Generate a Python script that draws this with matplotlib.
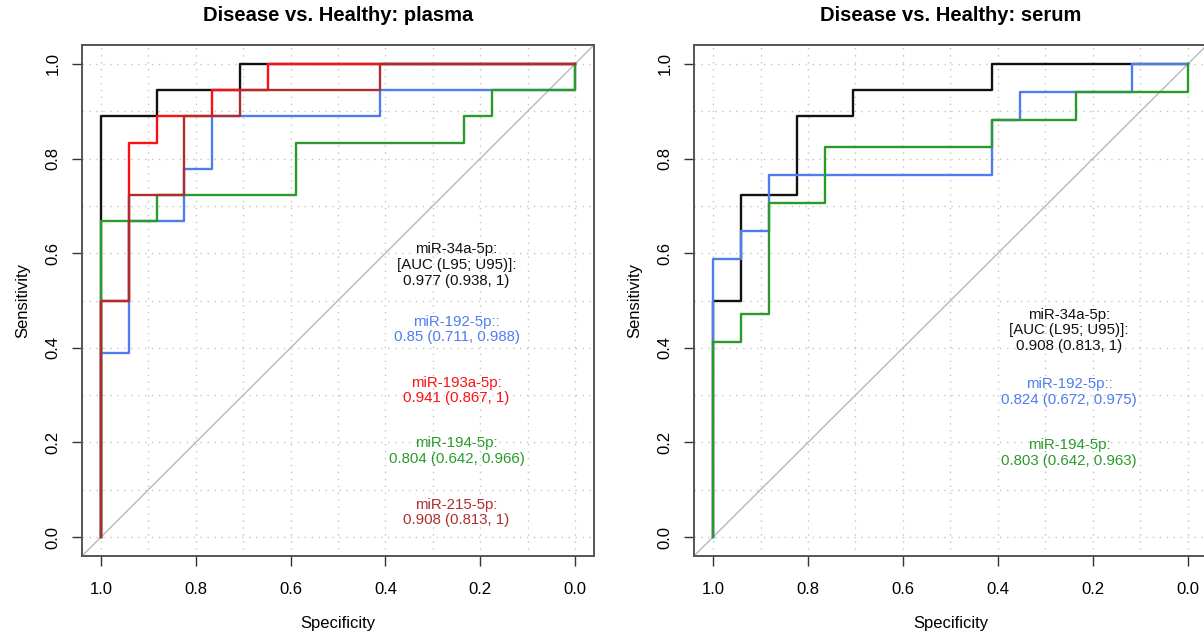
import matplotlib
matplotlib.use("Agg")
import matplotlib.pyplot as plt

plt.rcParams['font.family'] = ['Liberation Sans', 'DejaVu Sans']

# ---------------- data: plasma ----------------
pl_34a_spec = [1, 1, 0.882, 0.882, 0.706, 0.706, 0]
pl_34a_sens = [0, 0.889, 0.889, 0.944, 0.944, 1, 1]

pl_192_spec = [1, 1, 0.941, 0.941, 0.824, 0.824, 0.765, 0.765, 0.412, 0.412, 0, 0]
pl_192_sens = [0, 0.389, 0.389, 0.667, 0.667, 0.778, 0.778, 0.889, 0.889, 0.944, 0.944, 1]

pl_193a_spec = [1, 1, 0.941, 0.941, 0.882, 0.882, 0.765, 0.765, 0.647, 0.647, 0]
pl_193a_sens = [0, 0.5, 0.5, 0.833, 0.833, 0.889, 0.889, 0.944, 0.944, 1, 1]

pl_194_spec = [1, 1, 0.882, 0.882, 0.588, 0.588, 0.235, 0.235, 0.176, 0.176, 0, 0]
pl_194_sens = [0, 0.667, 0.667, 0.722, 0.722, 0.833, 0.833, 0.889, 0.889, 0.944, 0.944, 1]

pl_215_spec = [1, 1, 0.941, 0.941, 0.824, 0.824, 0.706, 0.706, 0.412, 0.412, 0]
pl_215_sens = [0, 0.5, 0.5, 0.722, 0.722, 0.889, 0.889, 0.944, 0.944, 1, 1]

# ---------------- data: serum ----------------
se_34a_spec = [1, 1, 0.941, 0.941, 0.824, 0.824, 0.706, 0.706, 0.412, 0.412, 0]
se_34a_sens = [0, 0.5, 0.5, 0.722, 0.722, 0.889, 0.889, 0.944, 0.944, 1, 1]

se_192_spec = [1, 1, 0.941, 0.941, 0.882, 0.882, 0.412, 0.412, 0.353, 0.353, 0.118, 0.118, 0]
se_192_sens = [0, 0.588, 0.588, 0.647, 0.647, 0.765, 0.765, 0.882, 0.882, 0.941, 0.941, 1, 1]

se_194_spec = [1, 1, 0.941, 0.941, 0.882, 0.882, 0.765, 0.765, 0.412, 0.412, 0.235, 0.235, 0, 0]
se_194_sens = [0, 0.412, 0.412, 0.471, 0.471, 0.706, 0.706, 0.824, 0.824, 0.882, 0.882, 0.941, 0.941, 1]

pl_labels = ["miR-34a-5p:\n[AUC (L95; U95)]:\n0.977 (0.938, 1)",
             "miR-192-5p::\n0.85 (0.711, 0.988)",
             "miR-193a-5p:\n0.941 (0.867, 1)",
             "miR-194-5p:\n0.804 (0.642, 0.966)",
             "miR-215-5p:\n0.908 (0.813, 1)"]
se_labels = ["miR-34a-5p:\n[AUC (L95; U95)]:\n0.908 (0.813, 1)",
             "miR-192-5p::\n0.824 (0.672, 0.975)",
             "miR-194-5p:\n0.803 (0.642, 0.963)"]

C_BLACK = '#111111'
C_BLUE = '#4F7CF0'
C_RED = '#FF1010'
C_GREEN = '#2A9A2A'
C_BROWN = '#AE2E2E'

fig = plt.figure(figsize=(12.04, 6.35), dpi=100)
W, H = 1204, 635
ax1 = fig.add_axes([82 / W, 1 - 556 / H, (594 - 82) / W, (556 - 45) / H])
ax2 = fig.add_axes([694 / W, 1 - 556 / H, (1207 - 694) / W, (556 - 45) / H])


def style(ax, title):
    ax.set_xlim(1.04, -0.04)
    ax.set_ylim(-0.04, 1.04)
    ticks = [0, 0.2, 0.4, 0.6, 0.8, 1.0]
    ax.set_xticks(ticks)
    ax.set_yticks(ticks)
    ax.set_xticklabels(['%.1f' % t for t in ticks])
    ax.set_yticklabels(['%.1f' % t for t in ticks])
    for lab in ax.get_yticklabels():
        lab.set_rotation(90)
        lab.set_va('center')
    ax.tick_params(length=7.5, width=1.0, color='#333333', labelsize=12)
    ax.tick_params(axis='x', pad=11)
    ax.tick_params(axis='y', pad=8)
    for s in ax.spines.values():
        s.set_color('#555555')
        s.set_linewidth(1.4)
    grid = [i / 10 for i in range(11)]
    for g in grid:
        ax.axvline(g, color='#c4c4c4', lw=1.0, ls=(0, (1, 4)), zorder=0)
        ax.axhline(g, color='#c4c4c4', lw=1.0, ls=(0, (1, 4)), zorder=0)
    ax.axline((1, 0), (0, 1), color='#b8b8b8', lw=1.0, zorder=1)
    ax.set_xlabel('Specificity', fontsize=12, labelpad=14)
    ax.set_ylabel('Sensitivity', fontsize=12, labelpad=11)
    ax.set_title(title, fontsize=14.5, fontweight='bold', pad=17)


style(ax1, 'Disease vs. Healthy: plasma')
style(ax2, 'Disease vs. Healthy: serum')

lw = 1.7
ax1.plot(pl_34a_spec, pl_34a_sens, color=C_BLACK, lw=lw)
ax1.plot(pl_192_spec, pl_192_sens, color=C_BLUE, lw=lw)
ax1.plot(pl_193a_spec, pl_193a_sens, color=C_RED, lw=lw)
ax1.plot(pl_194_spec, pl_194_sens, color=C_GREEN, lw=lw)
ax1.plot(pl_215_spec, pl_215_sens, color=C_BROWN, lw=lw)

ax2.plot(se_34a_spec, se_34a_sens, color=C_BLACK, lw=lw)
ax2.plot(se_192_spec, se_192_sens, color=C_BLUE, lw=lw)
ax2.plot(se_194_spec, se_194_sens, color=C_GREEN, lw=lw)

pl_cols = [C_BLACK, C_BLUE, C_RED, C_GREEN, C_BROWN]
pl_y = [0.575, 0.439, 0.310, 0.182, 0.052]
for txt, c, y in zip(pl_labels, pl_cols, pl_y):
    ax1.text(0.25, y, txt, color=c, fontsize=10.8, ha='center', va='center',
             linespacing=1.15)

se_cols = [C_BLACK, C_BLUE, C_GREEN]
se_y = [0.437, 0.307, 0.178]
for txt, c, y in zip(se_labels, se_cols, se_y):
    ax2.text(0.25, y, txt, color=c, fontsize=10.8, ha='center', va='center',
             linespacing=1.15)

fig.savefig('out.png', dpi=100)
